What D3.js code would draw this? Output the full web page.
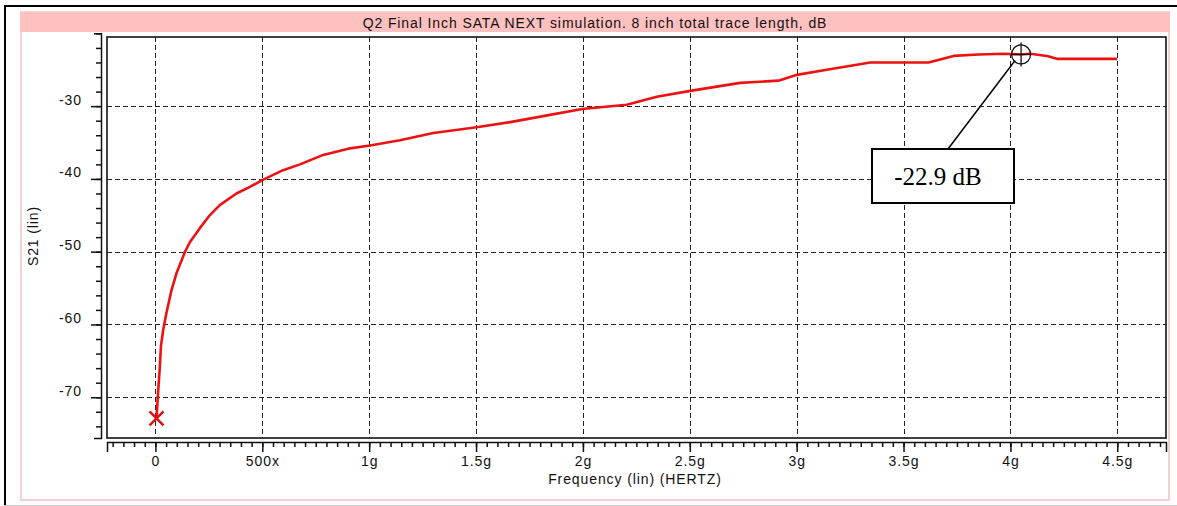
<!DOCTYPE html>
<html>
<head>
<meta charset="utf-8">
<script src="https://cdn.jsdelivr.net/npm/d3@7"></script>
<style>
  body { margin: 0; background: #fff; }
  svg { display: block; font-family: "Liberation Sans", Arial, sans-serif; }
  .ui { font-size: 14px; letter-spacing: 0.9px; fill: #111; }
</style>
</head>
<body>
<svg class="svg" width="1177" height="506"></svg>
<script>
// trace, frequency in GHz
const freqGHz = [0.005, 0.012, 0.020, 0.026, 0.036, 0.051, 0.075, 0.098, 0.137, 0.161, 0.207, 0.254, 0.301,
  0.379, 0.442, 0.498, 0.597, 0.676, 0.785, 0.911, 1.004, 1.144, 1.300, 1.503, 1.660, 1.846, 1.997, 2.205,
  2.346, 2.502, 2.736, 2.915, 3.001, 3.141, 3.344, 3.505, 3.617, 3.734, 3.851, 3.968, 4.050, 4.093, 4.171,
  4.218, 4.499];
const s21dB = [-72.9, -69.5, -66.1, -62.9, -60.8, -58.5, -55.3, -53.0, -50.1, -48.7, -46.8, -45.0, -43.6,
  -42.0, -41.1, -40.2, -38.8, -38.0, -36.7, -35.8, -35.4, -34.7, -33.7, -32.9, -32.2, -31.2, -30.4, -29.8,
  -28.7, -27.9, -26.8, -26.5, -25.7, -25.0, -24.0, -24.0, -24.0, -23.1, -22.9, -22.8, -22.9, -22.8, -23.1,
  -23.5, -23.5];

const xTickValues = [0, 0.5, 1, 1.5, 2, 2.5, 3, 3.5, 4, 4.5];
const xTickLabels = ["0", "500x", "1g", "1.5g", "2g", "2.5g", "3g", "3.5g", "4g", "4.5g"];
const yTickValues = [-30, -40, -50, -60, -70];
const yTickLabels = ["-30", "-40", "-50", "-60", "-70"];

const startMarker = { freq: 0.005, dB: -72.9 };
const peakMarker = { freq: 4.05, dB: -22.9, label: "-22.9 dB" };

const title = "Q2 Final Inch SATA NEXT simulation. 8 inch total trace length, dB";

const svg = d3.select(".svg");

const plot = { left: 107, right: 1166, top: 37, bottom: 438 };

const x = d3.scaleLinear().domain([-0.2266, 4.728]).range([plot.left, plot.right]);
const y = d3.scaleLinear().domain([-75.6, -20.5]).range([plot.bottom, plot.top]);

// outer frame + pink panel
svg.append("line").attr("x1", 5).attr("x2", 5).attr("y1", 5).attr("y2", 506).attr("stroke", "#000").attr("stroke-width", 2);
svg.append("line").attr("x1", 4).attr("x2", 1177).attr("y1", 6).attr("y2", 6).attr("stroke", "#000").attr("stroke-width", 2);
svg.append("line").attr("x1", 4).attr("x2", 1177).attr("y1", 505.5).attr("y2", 505.5).attr("stroke", "#ccc").attr("stroke-width", 1);
svg.append("rect").attr("x", 21).attr("y", 12).attr("width", 1148).attr("height", 488)
  .attr("fill", "#fff").attr("stroke", "#f5d2d2").attr("stroke-width", 2);
svg.append("rect").attr("x", 20).attr("y", 12).attr("width", 1150).attr("height", 20).attr("fill", "#ffc0c0");
svg.append("text").attr("class", "ui").attr("x", 595).attr("y", 28).attr("text-anchor", "middle")
  .attr("fill", "#000").text(title);

// grid
const grid = svg.append("g").attr("shape-rendering", "crispEdges");
grid.selectAll(".vg").data(xTickValues).join("line").attr("class", "vg")
  .attr("x1", d => Math.round(x(d)) + 0.5).attr("x2", d => Math.round(x(d)) + 0.5)
  .attr("y1", plot.top).attr("y2", plot.bottom)
  .attr("stroke", "#222").attr("stroke-dasharray", "5,3");
grid.selectAll(".hg").data(yTickValues).join("line").attr("class", "hg")
  .attr("x1", plot.left).attr("x2", plot.right)
  .attr("y1", d => Math.round(y(d)) + 0.5).attr("y2", d => Math.round(y(d)) + 0.5)
  .attr("stroke", "#222").attr("stroke-dasharray", "5,3");

svg.append("rect").attr("x", plot.left).attr("y", plot.top)
  .attr("width", plot.right - plot.left).attr("height", plot.bottom - plot.top)
  .attr("fill", "none").attr("stroke", "#111").attr("stroke-width", 1.6);

// y axis, separate line left of the frame
const yAxisScale = y.copy().domain([-75.6, -20]).range([y(-75.6), y(-20)]);
const yMinor = d3.range(-20, -75, -2);
svg.append("g").attr("transform", "translate(101,0)")
  .call(d3.axisLeft(yAxisScale).tickValues(yMinor).tickSize(5).tickSizeOuter(7).tickFormat(""))
  .call(g => g.selectAll("path, line").attr("stroke", "#111").attr("stroke-width", 1.5));
svg.append("g").attr("transform", "translate(101,0)")
  .call(d3.axisLeft(yAxisScale).tickValues(yTickValues).tickSize(10).tickSizeOuter(0)
    .tickFormat((d, i) => yTickLabels[i]))
  .call(g => g.select(".domain").remove())
  .call(g => g.selectAll("line").attr("stroke", "#111").attr("stroke-width", 1.5))
  .call(g => g.selectAll("text").attr("class", "ui").attr("x", -19).attr("dy", "-0.15em")
    .attr("font-size", null).attr("font-family", null));

svg.append("text").attr("class", "ui").attr("transform", "translate(38,236) rotate(-90)")
  .attr("text-anchor", "middle").text("S21 (lin)");

// x axis, separate line under the frame
const xMinor = d3.range(-0.2, 4.73, 0.05).map(d => +d.toFixed(2));
svg.append("g").attr("transform", "translate(0,442)")
  .call(d3.axisBottom(x).tickValues(xMinor).tickSize(5).tickSizeOuter(10).tickFormat(""))
  .call(g => g.selectAll("path, line").attr("stroke", "#111").attr("stroke-width", 1.5));
svg.append("g").attr("transform", "translate(0,442)")
  .call(d3.axisBottom(x).tickValues(xTickValues).tickSize(10).tickSizeOuter(0)
    .tickFormat((d, i) => xTickLabels[i]))
  .call(g => g.select(".domain").remove())
  .call(g => g.selectAll("line").attr("stroke", "#111").attr("stroke-width", 1.5))
  .call(g => g.selectAll("text").attr("class", "ui").attr("y", 14)
    .attr("font-size", null).attr("font-family", null));

svg.append("text").attr("class", "ui").attr("x", 635).attr("y", 484).attr("text-anchor", "middle")
  .text("Frequency (lin) (HERTZ)");

// trace
const trace = freqGHz.map((f, i) => ({ f, v: s21dB[i] }));
svg.append("path").datum(trace)
  .attr("d", d3.line().x(d => x(d.f)).y(d => y(d.v)))
  .attr("fill", "none").attr("stroke", "#ee1111").attr("stroke-width", 2.6)
  .attr("stroke-linejoin", "round");

// start marker (red x)
const sx = x(startMarker.freq), sy = y(startMarker.dB);
svg.append("path")
  .attr("d", `M${sx - 7},${sy - 7}L${sx + 7},${sy + 7}M${sx - 7},${sy + 7}L${sx + 7},${sy - 7}`)
  .attr("stroke", "#e01010").attr("stroke-width", 2.5);

// peak marker + callout
const px = x(peakMarker.freq), py = y(peakMarker.dB);
svg.append("circle").attr("cx", px).attr("cy", py).attr("r", 9.5)
  .attr("fill", "none").attr("stroke", "#111").attr("stroke-width", 1.3);
svg.append("path").attr("d", `M${px},${py - 12}V${py + 12}M${px - 10},${py}H${px + 10}`)
  .attr("stroke", "#111").attr("stroke-width", 1.3);

const box = { x: 872, y: 149, w: 142, h: 54 };
svg.append("line").attr("x1", box.x + 76).attr("y1", box.y).attr("x2", px - 6).attr("y2", py + 6)
  .attr("stroke", "#000").attr("stroke-width", 1.5);
svg.append("rect").attr("x", box.x).attr("y", box.y).attr("width", box.w).attr("height", box.h)
  .attr("fill", "#fff").attr("stroke", "#000").attr("stroke-width", 2);
svg.append("text").attr("x", box.x + box.w / 2 - 5).attr("y", box.y + 36).attr("text-anchor", "middle")
  .attr("font-family", "Liberation Serif, 'Times New Roman', serif").attr("font-size", "25px")
  .attr("fill", "#000").text(peakMarker.label);
</script>
</body>
</html>
